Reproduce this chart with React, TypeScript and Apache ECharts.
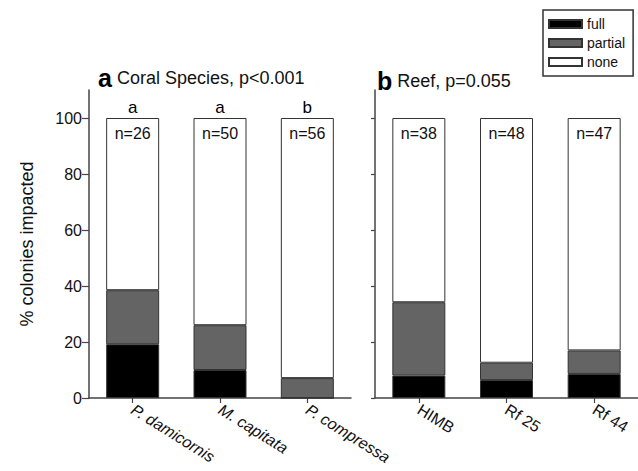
import React, { useEffect, useRef } from "react";
import * as echarts from "echarts";

const speciesCats = ["P. damicornis", "M. capitata", "P. compressa"];
const speciesFull = [19.2, 10.0, 0];
const speciesPartial = [19.3, 16.0, 7.1];
const speciesNone = [61.5, 74.0, 92.9];
const speciesN = ["n=26", "n=50", "n=56"];
const speciesLetters = ["a", "a", "b"];

const reefCats = ["HIMB", "Rf 25", "Rf 44"];
const reefFull = [8.0, 6.4, 8.6];
const reefPartial = [26.2, 6.2, 8.4];
const reefNone = [65.8, 87.4, 83.0];
const reefN = ["n=38", "n=48", "n=47"];

const yTicks = [0, 20, 40, 60, 80, 100];

const FONT = "Liberation Sans, Arial, sans-serif";
const BORDER = "#333";
const AXIS = "#444";

export default function App() {
  const ref = useRef<HTMLDivElement>(null);
  useEffect(() => {
    document.body.style.margin = "0";
    const chart = echarts.init(ref.current!, null, { renderer: "svg" });

    const mkX = (gridIndex: number, data: string[], italic: boolean) => ({
      type: "category",
      gridIndex,
      data,
      axisLine: { show: true, lineStyle: { color: AXIS, width: 1.5 } },
      axisTick: { show: true, alignWithLabel: true, length: 5, lineStyle: { color: AXIS, width: 1.2 } },
      axisLabel: {
        rotate: -32,
        margin: 10,
        color: "#111",
        fontFamily: FONT,
        fontSize: 16,
        fontStyle: italic ? "italic" : "normal",
        interval: 0,
      },
    });
    const mkY = (gridIndex: number, showLabels: boolean) => ({
      type: "value",
      gridIndex,
      min: 0,
      max: 110,
      interval: 10,
      splitLine: { show: false },
      axisLine: { show: true, lineStyle: { color: AXIS, width: 1.5 } },
      axisTick: {
        show: true,
        length: showLabels ? 7 : 4,
        customValues: yTicks,
        lineStyle: { color: AXIS, width: 1.2 },
      },
      axisLabel: {
        show: showLabels,
        customValues: yTicks,
        color: "#111",
        fontFamily: FONT,
        fontSize: 16,
        margin: 7,
      },
      name: showLabels ? "% colonies impacted" : "",
      nameLocation: "middle",
      nameGap: 53,
      nameTextStyle: { fontFamily: FONT, fontSize: 18, color: "#111" },
    });

    const barSeries = (
      idx: number,
      stack: string,
      full: number[],
      partial: number[],
      none: number[],
      nLabels: string[]
    ) => [
      {
        name: "full",
        type: "bar",
        xAxisIndex: idx,
        yAxisIndex: idx,
        stack,
        barWidth: 53,
        barGap: "-100%",
        data: full,
        itemStyle: { color: "#000", borderColor: BORDER, borderWidth: 1 },
      },
      {
        name: "partial",
        type: "bar",
        xAxisIndex: idx,
        yAxisIndex: idx,
        stack,
        barWidth: 53,
        barGap: "-100%",
        data: partial,
        itemStyle: { color: "#646464", borderColor: BORDER, borderWidth: 1 },
      },
      {
        name: "none",
        type: "bar",
        xAxisIndex: idx,
        yAxisIndex: idx,
        stack,
        barWidth: 53,
        barGap: "-100%",
        data: none,
        itemStyle: { color: "#fff", borderColor: BORDER, borderWidth: 1 },
        label: {
          show: true,
          position: "insideTop",
          distance: 7,
          formatter: (p: any) => nLabels[p.dataIndex],
          color: "#111",
          fontFamily: FONT,
          fontSize: 16,
        },
      },
    ];

    const titleRich = {
      b: { fontFamily: FONT, fontSize: 25, fontWeight: "bold", color: "#000" },
      t: { fontFamily: FONT, fontSize: 18, fontWeight: "normal", color: "#111" },
    };

    chart.setOption({
      animation: false,
      backgroundColor: "#fff",
      textStyle: { fontFamily: FONT },
      title: [
        {
          text: "{b|a} {t|Coral Species, p<0.001}",
          left: 93,
          top: 60,
          textStyle: { fontWeight: "normal", rich: titleRich },
        },
        {
          text: "{b|b} {t|Reef, p=0.055}",
          left: 372,
          top: 63,
          textStyle: { fontWeight: "normal", rich: titleRich },
        },
      ],
      legend: {
        data: ["full", "partial", "none"],
        orient: "vertical",
        left: 543,
        top: 10,
        itemWidth: 33,
        itemHeight: 8,
        itemGap: 5,
        padding: [7, 8, 7, 5],
        borderColor: "#333",
        borderWidth: 1.5,
        backgroundColor: "#fff",
        icon: "rect",
        textStyle: { fontFamily: FONT, fontSize: 14, color: "#111" },
      },
      grid: [
        { left: 89, right: 287, top: 90, bottom: 73 },
        { left: 375, right: 0, top: 90, bottom: 73 },
      ],
      xAxis: [mkX(0, speciesCats, true), mkX(1, reefCats, false)],
      yAxis: [mkY(0, true), mkY(1, false)],
      series: [
        ...barSeries(0, "a", speciesFull, speciesPartial, speciesNone, speciesN),
        ...barSeries(1, "b", reefFull, reefPartial, reefNone, reefN),
        {
          name: "letters",
          type: "bar",
          xAxisIndex: 0,
          yAxisIndex: 0,
          barWidth: 53,
          barGap: "-100%",
          z: 1,
          itemStyle: { color: "rgba(0,0,0,0)", borderWidth: 0 },
          data: speciesLetters.map(() => 100),
          label: {
            show: true,
            position: "top",
            distance: 2,
            formatter: (p: any) => speciesLetters[p.dataIndex],
            color: "#000",
            fontFamily: FONT,
            fontSize: 17,
          },
          silent: true,
        },
      ],
    });
    return () => chart.dispose();
  }, []);
  return <div ref={ref} style={{ width: 638, height: 471 }} />;
}
